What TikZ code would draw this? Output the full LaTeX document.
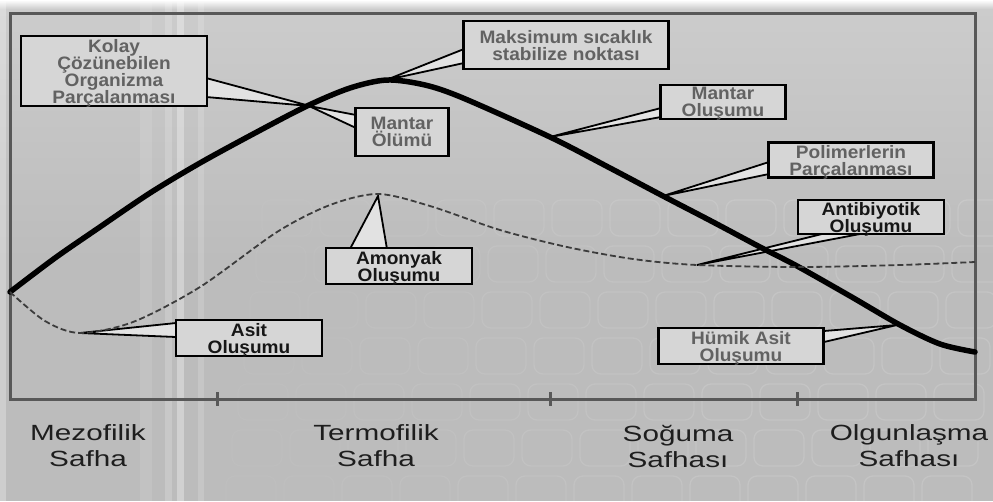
\documentclass[tikz,border=0pt]{standalone}
\usepackage{fontspec}
\setmainfont{Liberation Sans}
\newfontfamily\callfont[FakeStretch=1.06]{Liberation Sans}
\newfontfamily\phasefont[FakeStretch=1.35]{Liberation Sans}
\usetikzlibrary{calc}

\definecolor{bgbase}{RGB}{188,188,188}
\definecolor{bgtop}{RGB}{204,204,204}
\definecolor{framecol}{RGB}{88,88,88}
\definecolor{boxfill}{RGB}{214,214,214}
\definecolor{wedgefill}{RGB}{226,226,226}
\definecolor{txtgray}{RGB}{98,98,98}
\definecolor{txtdark}{RGB}{22,22,22}
\definecolor{dashcol}{RGB}{60,60,60}
\definecolor{phasecol}{RGB}{30,30,30}

\tikzset{
  cbox/.style={draw=black, line width=2.6pt, fill=boxfill, inner sep=0pt,
    align=center, text=txtgray, text depth=-2pt,
    font=\callfont\bfseries\fontsize{18}{17}\selectfont},
  cboxdark/.style={cbox, text=txtdark},
  wedge/.style={draw=black, line width=1.8pt, fill=wedgefill, line join=miter},
  heatcurve/.style={line width=5.5pt, black, line cap=round},
  gascurve/.style={line width=1.8pt, dashcol, dash pattern=on 6pt off 3pt},
  framestyle/.style={draw=framecol, line width=3pt},
  tickstyle/.style={framecol, line width=3pt},
  phase/.style={inner sep=0pt, align=center, text=phasecol,
    font=\phasefont\fontsize{22}{26}\selectfont},
  tile/.style={white, line width=1.3pt, rounded corners=9pt}
}

\begin{document}
\begin{tikzpicture}[x=1pt, y=-1pt]
\useasboundingbox (0,0) rectangle (993,501);

% background
\fill[bgbase] (0,0) rectangle (993,501);
\shade[top color=bgtop, bottom color=bgbase] (0,8) rectangle (993,260);
\shade[top color=white, bottom color=bgtop] (0,0) rectangle (993,9);

% light vertical streaks on the left
\fill[white, opacity=.28] (0,0) rectangle (6,501);
\fill[white, opacity=.10] (140,0) rectangle (152,501);
\fill[white, opacity=.18] (165,0) rectangle (172,501);
\fill[white, opacity=.32] (177,0) rectangle (184,501);
\fill[white, opacity=.16] (198,0) rectangle (204,501);

% faint tile pattern
\foreach \i in {0,...,12} {
  \foreach \j in {0,...,6} {
    \pgfmathsetmacro\op{min(0.13, 0.03 + 0.012*\i)}
    \draw[tile, opacity=\op] ({262+58*\i-6*\j}, {200+46*\j}) rectangle ++(50,36);
  }
}

% chart frame and phase ticks
\draw[framestyle] (10,13) rectangle (975,399);
\coordinate (tk1) at (217,399);
\coordinate (tk2) at (550,399);
\coordinate (tk3) at (797,399);
\foreach \t in {tk1,tk2,tk3} {
  \draw[tickstyle] ($(\t)+(0,-7)$) -- ($(\t)+(0,7)$);
}

% curve anchor points
\coordinate (tKolay) at (310,106);
\coordinate (tOlum)  at (309,106);
\coordinate (tMaks)  at (386,80);
\coordinate (tFung)  at (550,137);
\coordinate (tPol)   at (663,196);
\coordinate (tHum)   at (897,325);
\coordinate (tAmon)  at (378,196);
\coordinate (tAsit)  at (80,333);
\coordinate (tAnti)  at (697,265);

% callout pointer bases
\coordinate (kolayA) at (206,78);  \coordinate (kolayB) at (206,97);
\coordinate (maksA)  at (464,49);  \coordinate (maksB)  at (464,63);
\coordinate (olumA)  at (356,115); \coordinate (olumB)  at (356,128);
\coordinate (fungA)  at (661,108); \coordinate (fungB)  at (661,117);
\coordinate (polA)   at (769,162); \coordinate (polB)   at (769,174);
\coordinate (antiA)  at (822,234); \coordinate (antiB)  at (860,234);
\coordinate (amonA)  at (350,249); \coordinate (amonB)  at (387,249);
\coordinate (asitA)  at (176,323); \coordinate (asitB)  at (176,337);
\coordinate (humA)   at (824,331); \coordinate (humB)   at (824,342);

% callout pointers
\filldraw[wedge] (kolayA) -- (tKolay) -- (kolayB) -- cycle;
\filldraw[wedge] (maksA) -- (tMaks) -- (maksB) -- cycle;
\filldraw[wedge] (olumA) -- (tOlum) -- (olumB) -- cycle;
\filldraw[wedge] (fungA) -- (tFung) -- (fungB) -- cycle;
\filldraw[wedge] (polA) -- (tPol) -- (polB) -- cycle;
\filldraw[wedge] (antiA) -- (tAnti) -- (antiB) -- cycle;
\filldraw[wedge] (amonA) -- (tAmon) -- (amonB) -- cycle;
\filldraw[wedge] (asitA) -- (tAsit) -- (asitB) -- cycle;
\filldraw[wedge] (humA) -- (tHum) -- (humB) -- cycle;

% temperature curve
\draw[heatcurve] plot[smooth, tension=0.5] coordinates {
  (10,292) (55,258) (97,229) (150,193) (200,163) (255,133) (307,106)
  (350,88) (387,80) (425,85) (463,98) (550,137) (610,168) (663,196)
  (713,222) (760,247) (797,266) (850,296) (900,325) (940,344) (975,352)};

% pH / ammonia curve
\draw[gascurve] plot[smooth, tension=0.5] coordinates {
  (10,292) (45,321) (80,333) (133,322) (200,287) (277,232) (330,205)
  (378,194) (430,206) (500,230) (567,247) (633,259) (697,265) (800,267)
  (900,265) (975,262)};

% callout boxes
\node[cbox, minimum width=186pt, minimum height=70pt] (kolay) at (114,71)
  {Kolay\\Çözünebilen\\Organizma\\Parçalanması};
\node[cbox, minimum width=205pt, minimum height=48pt] (maks) at (566,45)
  {Maksimum sıcaklık\\stabilize noktası};
\node[cbox, minimum width=93pt, minimum height=48pt] (olum) at (402,132)
  {Mantar\\Ölümü};
\node[cbox, minimum width=125pt, minimum height=34pt] (fung) at (723,102)
  {Mantar\\Oluşumu};
\node[cbox, minimum width=165pt, minimum height=35pt] (pol) at (851,160)
  {Polimerlerin\\Parçalanması};
\node[cboxdark, minimum width=146pt, minimum height=34pt] (anti) at (871,217)
  {Antibiyotik\\Oluşumu};
\node[cboxdark, minimum width=146pt, minimum height=36pt] (amon) at (399,266)
  {Amonyak\\Oluşumu};
\node[cboxdark, minimum width=146pt, minimum height=36pt] (asit) at (249,338)
  {Asit\\Oluşumu};
\node[cbox, minimum width=165pt, minimum height=36pt] (hum) at (741,346)
  {Hümik Asit\\Oluşumu};

% phase labels
\node[phase] (mezo) at (88,446) {Mezofilik\\Safha};
\node[phase] (termo) at (376,446) {Termofilik\\Safha};
\node[phase] (sogu) at (678,446) {Soğuma\\Safhası};
\node[phase] (olgun) at (909,446) {Olgunlaşma\\Safhası};
\end{tikzpicture}
\end{document}
